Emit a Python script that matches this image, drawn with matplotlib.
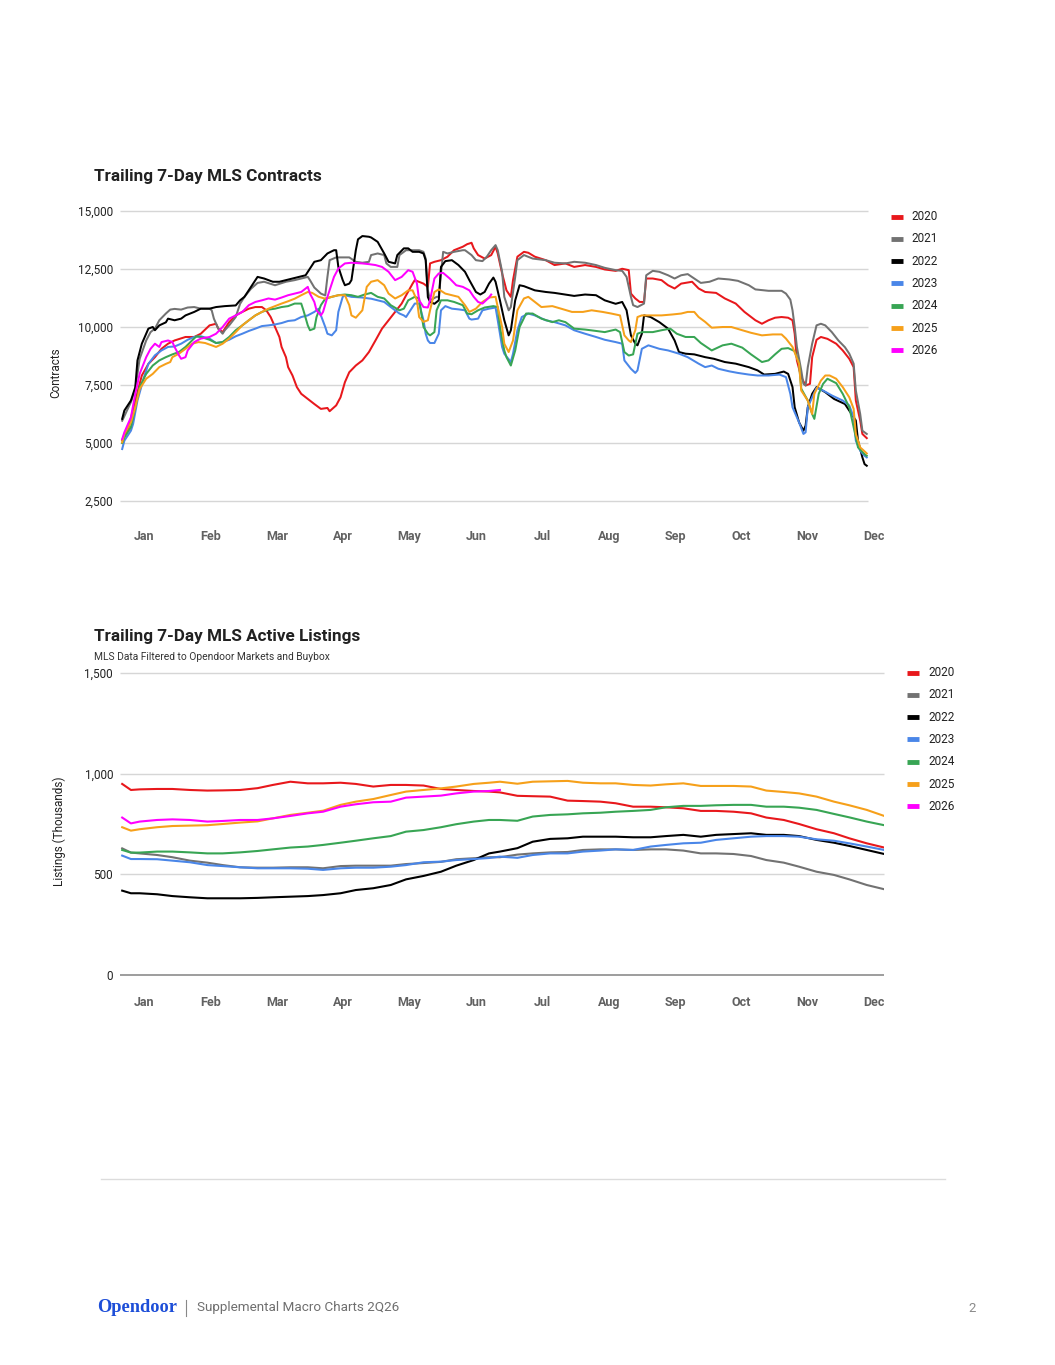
import numpy as np
import matplotlib
matplotlib.use("Agg")
import matplotlib.pyplot as plt
from matplotlib.lines import Line2D

plt.rcParams['font.family'] = ['Roboto', 'DejaVu Sans']

years = ['2020', '2021', '2022', '2023', '2024', '2025', '2026']
colors = ['#e8181c', '#727272', '#000000', '#4a86e8', '#38a554', '#f6a01a', '#ff00ff']
months = ['Jan', 'Feb', 'Mar', 'Apr', 'May', 'Jun', 'Jul', 'Aug', 'Sep', 'Oct', 'Nov', 'Dec']
month_days = np.arange(12) * 30.4

# trailing 7-day contracts, (day of year, contracts)
contracts_2020 = [(-10, 5130), (-7, 5680), (-4, 6830), (-1, 7910), (2, 8410), (5, 8700), (8, 9060), (11, 9280),
                  (14, 9420), (19, 9570), (23, 9570), (26, 9710), (30, 10070), (33, 10140), (34, 9930), (36, 9780),
                  (39, 10210), (42, 10500), (45, 10650), (48, 10790), (51, 10860), (54, 10860), (56, 10720),
                  (58, 10430), (60, 10000), (62, 9570), (63, 9140), (65, 8700), (66, 8270), (68, 7910), (70, 7410),
                  (72, 7120), (75, 6900), (78, 6680), (81, 6470), (84, 6510), (85, 6370), (88, 6620), (90, 6970),
                  (92, 7620), (94, 8050), (97, 8340), (100, 8560), (103, 8920), (106, 9420), (109, 9930),
                  (112, 10290), (115, 10650), (118, 11010), (120, 11360), (123, 11870), (124, 12020), (128, 11870),
                  (130, 11730), (131, 12740), (133, 12810), (136, 12880), (139, 13030), (142, 13310), (146, 13460),
                  (148, 13570), (150, 13630), (151, 13390), (153, 13100), (156, 12950), (159, 13100), (161, 13460),
                  (162, 13170), (164, 12310), (166, 11580), (168, 11300), (169, 12020), (171, 13030), (174, 13240),
                  (176, 13200), (179, 13030), (184, 12880), (188, 12670), (193, 12740), (197, 12590), (202, 12670),
                  (207, 12590), (211, 12480), (216, 12420), (219, 12510), (222, 12450), (223, 11440), (225, 11230),
                  (227, 11080), (229, 11080), (230, 12090), (233, 12090), (237, 12020), (240, 11800), (243, 11660),
                  (246, 11870), (251, 11950), (254, 11660), (257, 11510), (262, 11470), (266, 11230), (271, 11010),
                  (275, 10650), (280, 10290), (283, 10140), (286, 10290), (289, 10400), (292, 10430), (295, 10400),
                  (297, 10290), (298, 9710), (299, 8560), (301, 7840), (303, 7480), (305, 7550), (306, 8700),
                  (308, 9450), (310, 9570), (313, 9490), (317, 9280), (320, 8990), (323, 8630), (325, 8270),
                  (326, 6830), (328, 5970), (329, 5390), (331, 5210)]
contracts_2021 = [(-10, 5960), (-6, 6760), (-4, 7330), (-2, 8630), (1, 9420), (3, 9780), (5, 9930), (7, 10290),
                  (10, 10580), (12, 10750), (14, 10780), (17, 10750), (20, 10840), (23, 10860), (26, 10790),
                  (30, 10790), (31, 10720), (32, 10360), (34, 9930), (36, 9710), (37, 9860), (39, 10070), (42, 10430),
                  (44, 11000), (46, 11300), (49, 11650), (52, 11900), (55, 11950), (60, 11800), (65, 11950),
                  (69, 12020), (72, 12090), (75, 12160), (76, 12020), (78, 11700), (81, 11440), (83, 11360),
                  (84, 12160), (85, 12880), (88, 13000), (94, 13000), (97, 12810), (100, 12770), (103, 12810),
                  (104, 13100), (107, 13170), (110, 13100), (111, 12740), (113, 12590), (116, 12590), (117, 13100),
                  (120, 13310), (126, 13310), (128, 13240), (129, 12950), (130, 11580), (131, 11150), (134, 11300),
                  (135, 11300), (137, 13240), (139, 13170), (142, 13240), (146, 13310), (147, 13310), (150, 13100),
                  (152, 12880), (155, 12840), (157, 13030), (159, 13310), (161, 13530), (162, 13310), (164, 12380),
                  (165, 11300), (167, 10720), (168, 10860), (170, 12160), (171, 12880), (174, 13100), (178, 12950),
                  (184, 12880), (188, 12770), (193, 12740), (197, 12810), (202, 12770), (207, 12670), (211, 12550),
                  (216, 12450), (219, 12420), (221, 12160), (223, 11300), (224, 10940), (226, 10860), (229, 11010),
                  (230, 12230), (233, 12420), (236, 12380), (240, 12230), (243, 12090), (246, 12230), (249, 12280),
                  (252, 12090), (255, 11900), (259, 11950), (263, 12090), (268, 12050), (272, 11990), (277, 11800),
                  (280, 11620), (286, 11560), (292, 11560), (294, 11440), (296, 11180), (297, 10720), (298, 10000),
                  (299, 9140), (301, 8130), (302, 7550), (303, 7480), (304, 8270), (306, 9280), (308, 10070),
                  (310, 10140), (312, 10070), (315, 9780), (318, 9420), (321, 9130), (323, 8850), (325, 8420),
                  (326, 7260), (328, 6250), (329, 5530), (331, 5390)]
contracts_2022 = [(-10, 6040), (-9, 6400), (-6, 6830), (-4, 7400), (-3, 8560), (-1, 9280), (1, 9710), (2, 9930),
                  (4, 10000), (5, 9860), (7, 10070), (10, 10200), (11, 10360), (14, 10290), (17, 10360), (19, 10500),
                  (23, 10650), (26, 10790), (30, 10790), (33, 10860), (37, 10900), (42, 10930), (44, 11150),
                  (46, 11300), (49, 11730), (52, 12160), (55, 12090), (59, 11950), (62, 11950), (65, 12020),
                  (68, 12090), (71, 12160), (74, 12230), (77, 12670), (78, 12810), (81, 12880), (84, 13170),
                  (87, 13310), (88, 13310), (89, 12590), (91, 12020), (92, 11800), (94, 11870), (95, 12020),
                  (97, 13310), (98, 13780), (100, 13920), (103, 13890), (104, 13860), (107, 13670), (110, 13170),
                  (112, 12810), (115, 12740), (116, 13100), (119, 13390), (121, 13390), (123, 13240), (126, 13240),
                  (128, 13170), (129, 12880), (130, 11290), (131, 11080), (133, 11000), (135, 11150), (136, 12590),
                  (138, 12840), (141, 12880), (144, 12670), (147, 12380), (149, 12020), (152, 11510), (154, 11400),
                  (156, 11510), (158, 11870), (160, 12130), (161, 11950), (163, 11150), (165, 10290), (167, 9640),
                  (168, 9860), (170, 11150), (172, 11800), (174, 11760), (179, 11580), (184, 11510), (188, 11470),
                  (193, 11400), (197, 11340), (202, 11400), (207, 11370), (211, 11150), (216, 11000), (219, 11080),
                  (221, 10720), (223, 9640), (225, 9280), (226, 9210), (228, 9710), (229, 10500), (232, 10430),
                  (236, 10210), (240, 9930), (243, 9420), (245, 8920), (248, 8850), (252, 8820), (257, 8700),
                  (261, 8630), (266, 8490), (271, 8420), (277, 8270), (281, 8130), (284, 7950), (289, 7980),
                  (293, 8080), (295, 7980), (297, 7410), (298, 6540), (300, 5890), (302, 5530), (303, 5750),
                  (304, 6540), (306, 7120), (308, 7410), (312, 7190), (316, 6900), (321, 6680), (324, 6250),
                  (326, 5970), (327, 5100), (329, 4380), (330, 4090), (331, 4020)]
contracts_2023 = [(-10, 4740), (-9, 5100), (-6, 5530), (-5, 5820), (-3, 6830), (0, 7840), (2, 8410), (5, 8780),
                  (8, 8990), (11, 9140), (14, 9160), (17, 9280), (20, 9450), (23, 9570), (26, 9600), (30, 9500),
                  (33, 9310), (36, 9350), (39, 9450), (42, 9600), (45, 9710), (48, 9830), (51, 9930), (54, 10040),
                  (57, 10070), (60, 10110), (63, 10170), (66, 10260), (69, 10290), (72, 10430), (75, 10500),
                  (78, 10650), (80, 10790), (81, 10500), (83, 10000), (84, 9710), (86, 9640), (88, 9860), (89, 10650),
                  (91, 11300), (92, 11370), (95, 11300), (100, 11270), (103, 11230), (104, 11220), (107, 11150),
                  (110, 11080), (113, 10860), (117, 10580), (119, 10500), (120, 10430), (122, 10720), (124, 11010),
                  (126, 11010), (128, 10290), (129, 9710), (130, 9420), (131, 9310), (133, 9310), (135, 9710),
                  (136, 10720), (138, 10900), (141, 10790), (144, 10760), (147, 10720), (149, 10360), (150, 10320),
                  (153, 10360), (155, 10720), (158, 10790), (161, 10840), (162, 10290), (164, 9140), (165, 8850),
                  (168, 8490), (169, 8850), (171, 9860), (173, 10430), (176, 10580), (179, 10500), (184, 10290),
                  (188, 10210), (193, 10070), (197, 9860), (202, 9710), (207, 9570), (211, 9450), (216, 9350),
                  (219, 9280), (220, 8560), (223, 8200), (225, 8020), (226, 8130), (228, 9060), (231, 9210),
                  (236, 9060), (240, 8990), (245, 8850), (249, 8700), (254, 8420), (257, 8270), (260, 8340),
                  (263, 8200), (268, 8090), (272, 8020), (277, 7950), (281, 7910), (286, 7910), (291, 7950),
                  (294, 7840), (296, 7120), (297, 6540), (300, 5890), (302, 5390), (303, 5460), (304, 6540),
                  (306, 6970), (308, 7380), (311, 7260), (315, 7050), (320, 6830), (323, 6620), (325, 6110),
                  (326, 5100), (328, 4670), (330, 4450), (331, 4380)]
contracts_2024 = [(-10, 5000), (-9, 5240), (-6, 5680), (-4, 6540), (-2, 7410), (1, 7980), (4, 8340), (7, 8560),
                  (10, 8700), (13, 8820), (16, 8920), (19, 9140), (22, 9420), (24, 9600), (26, 9570), (30, 9450),
                  (33, 9310), (36, 9350), (39, 9570), (42, 9860), (45, 10070), (48, 10290), (51, 10500), (54, 10650),
                  (57, 10750), (60, 10790), (63, 10860), (66, 10900), (69, 11010), (72, 11010), (73, 10720),
                  (75, 10070), (76, 9860), (78, 9930), (79, 10430), (81, 10940), (83, 11220), (86, 11300),
                  (89, 11370), (92, 11400), (95, 11370), (98, 11300), (101, 11400), (104, 11470), (107, 11300),
                  (110, 11230), (113, 10940), (117, 10720), (119, 10790), (121, 11150), (124, 11300), (126, 11230),
                  (127, 10580), (128, 10000), (130, 9710), (131, 9640), (133, 9780), (134, 10720), (136, 11150),
                  (139, 11150), (142, 11080), (146, 10940), (148, 10580), (150, 10550), (153, 10720), (156, 10840),
                  (160, 10900), (162, 10860), (163, 10000), (165, 8990), (166, 8700), (168, 8340), (170, 8990),
                  (172, 10000), (175, 10580), (178, 10580), (182, 10360), (187, 10210), (190, 10290), (193, 10210),
                  (197, 9930), (202, 9890), (207, 9830), (211, 9780), (216, 9890), (218, 9780), (220, 8920),
                  (222, 8770), (224, 8820), (226, 9710), (228, 9780), (233, 9780), (237, 9860), (241, 9930),
                  (244, 9710), (248, 9570), (252, 9570), (255, 9310), (260, 8990), (265, 9210), (269, 9280),
                  (274, 9110), (278, 8820), (283, 8490), (286, 8560), (289, 8820), (292, 9060), (295, 9090),
                  (298, 8960), (300, 8420), (301, 7340), (304, 6830), (306, 6250), (307, 6040), (309, 7120),
                  (311, 7550), (313, 7770), (317, 7580), (320, 7120), (323, 6540), (325, 5680), (327, 4810),
                  (330, 4520), (331, 4450)]
contracts_2025 = [(-10, 5030), (-9, 5390), (-6, 5890), (-4, 6540), (-2, 7330), (1, 7770), (4, 7980), (7, 8270),
                  (10, 8410), (12, 8490), (13, 8700), (16, 8850), (19, 9060), (22, 9280), (25, 9350), (28, 9310),
                  (31, 9210), (33, 9140), (36, 9280), (39, 9500), (42, 9780), (45, 10070), (48, 10290), (51, 10500),
                  (54, 10650), (57, 10790), (60, 10900), (63, 11010), (66, 11110), (69, 11220), (72, 11370),
                  (75, 11510), (77, 11470), (80, 11300), (83, 11220), (86, 11300), (89, 11370), (92, 11370),
                  (94, 10940), (95, 10500), (97, 10400), (100, 10720), (102, 11730), (104, 11950), (107, 12020),
                  (110, 11800), (112, 11440), (115, 11230), (118, 11370), (121, 11580), (123, 11580), (125, 11150),
                  (126, 10430), (128, 10220), (130, 10290), (131, 10720), (133, 11510), (135, 11620), (138, 11440),
                  (141, 11370), (144, 11300), (147, 10940), (149, 10650), (152, 10790), (155, 11080), (158, 11270),
                  (161, 11300), (162, 10860), (164, 10000), (165, 9280), (167, 8920), (169, 9420), (171, 10720),
                  (174, 11230), (176, 11300), (179, 11080), (182, 10860), (187, 10900), (191, 10790), (196, 10650),
                  (201, 10650), (205, 10720), (210, 10650), (214, 10580), (218, 10500), (220, 9640), (222, 9420),
                  (223, 9350), (225, 9860), (226, 10430), (228, 10500), (237, 10500), (242, 10540), (246, 10580),
                  (249, 10650), (252, 10650), (254, 10430), (257, 10220), (260, 9970), (265, 10000), (269, 10000),
                  (274, 9860), (278, 9750), (283, 9640), (288, 9680), (292, 9680), (294, 9500), (297, 9140),
                  (300, 8420), (301, 7260), (304, 6830), (306, 6250), (307, 7120), (310, 7690), (312, 7910),
                  (314, 7910), (317, 7770), (320, 7410), (323, 6970), (325, 6470), (326, 5390), (328, 4810),
                  (330, 4640), (331, 4550)]
contracts_2026 = [(-10, 5170), (-9, 5460), (-6, 6110), (-4, 7120), (-2, 7980), (1, 8700), (3, 9060), (5, 9280),
                  (7, 9140), (8, 9350), (11, 9420), (13, 9350), (14, 9140), (16, 8780), (17, 8630), (19, 8700),
                  (20, 8990), (23, 9350), (26, 9500), (30, 9570), (33, 9710), (36, 10000), (39, 10360), (42, 10500),
                  (45, 10650), (48, 10940), (51, 11080), (54, 11150), (57, 11230), (60, 11180), (63, 11270),
                  (66, 11370), (69, 11440), (72, 11510), (75, 11730), (76, 11440), (78, 11080), (79, 10720),
                  (81, 10500), (82, 10650), (84, 11300), (87, 12160), (89, 12520), (92, 12740), (95, 12770),
                  (100, 12740), (103, 12710), (106, 12670), (109, 12590), (112, 12380), (115, 12020), (118, 12160),
                  (121, 12450), (123, 12380), (125, 11870), (126, 11150), (128, 10860), (130, 10840), (131, 11150),
                  (133, 12090), (135, 12310), (137, 12330), (140, 12090), (143, 11800), (146, 11730), (149, 11580),
                  (151, 11300), (153, 11080), (155, 11010), (158, 11270), (159, 11400)]

# trailing 7-day active listings (thousands)
listing_days = [-10, -6, -2, 6, 13, 21, 29, 36, 44, 52, 59, 67, 75, 82, 90, 97, 105, 113, 120, 128, 136, 143,
                151, 158, 163, 171, 178, 186, 194, 201, 209, 216, 224, 232, 239, 247, 255, 262, 270, 278, 285,
                293, 300, 308, 316, 323, 331, 339]
listings_2020 = [949, 919, 922, 924, 924, 919, 916, 917, 919, 928, 944, 960, 952, 952, 955, 949, 936, 944, 944, 941,
                 924, 919, 914, 911, 907, 890, 888, 886, 866, 864, 861, 853, 836, 836, 833, 828, 815, 815, 811, 803,
                 782, 770, 750, 724, 704, 679, 654, 633]
listings_2021 = [629, 608, 604, 596, 585, 568, 558, 546, 535, 533, 533, 535, 535, 530, 541, 543, 543, 543, 551, 556,
                 562, 575, 580, 585, 585, 598, 604, 609, 611, 621, 624, 624, 621, 624, 624, 618, 604, 604, 601, 591,
                 571, 558, 538, 513, 497, 475, 447, 426]
listings_2022 = [419, 406, 406, 401, 392, 386, 381, 381, 381, 383, 386, 389, 392, 397, 406, 422, 431, 447, 475, 492,
                 513, 543, 571, 604, 613, 630, 662, 676, 679, 687, 687, 687, 684, 684, 690, 696, 687, 696, 700, 704,
                 696, 696, 690, 671, 657, 641, 621, 601]
listings_2023 = [593, 576, 576, 575, 568, 560, 546, 541, 535, 530, 530, 530, 528, 522, 530, 533, 533, 538, 546, 560,
                 563, 571, 576, 581, 588, 582, 596, 604, 604, 613, 618, 624, 621, 638, 646, 654, 657, 671, 679, 687,
                 690, 690, 687, 674, 667, 654, 638, 621]
listings_2024 = [621, 608, 608, 613, 613, 609, 604, 604, 609, 616, 624, 633, 638, 646, 657, 667, 679, 690, 712, 720,
                 734, 749, 762, 770, 770, 766, 787, 795, 798, 803, 806, 811, 815, 820, 833, 840, 840, 843, 845, 845,
                 836, 836, 831, 820, 800, 783, 762, 744]
listings_2025 = [734, 717, 724, 734, 740, 742, 744, 750, 757, 763, 778, 795, 806, 816, 845, 861, 874, 894, 911, 919,
                 927, 936, 949, 955, 960, 950, 960, 962, 964, 955, 952, 952, 944, 941, 947, 952, 939, 939, 939, 936,
                 916, 909, 902, 886, 861, 843, 820, 790]
listings_2026 = [782, 753, 762, 770, 773, 770, 762, 765, 770, 770, 778, 790, 803, 811, 836, 848, 858, 861, 881, 886,
                 891, 902, 911, 914, 919]

contract_series = [contracts_2020, contracts_2021, contracts_2022, contracts_2023,
                   contracts_2024, contracts_2025, contracts_2026]
listing_series = [listings_2020, listings_2021, listings_2022, listings_2023,
                  listings_2024, listings_2025, listings_2026]

W, H = 1055, 1365
fig = plt.figure(figsize=(W / 100, H / 100), dpi=100)


def fx(px):
    return px / W


def fy(py):
    return 1 - py / H


def style_axes(ax, yticks, ylabels, xpad):
    for s in ax.spines.values():
        s.set_visible(False)
    ax.set_xlim(-11, 338.9)
    ax.set_xticks(month_days, months, fontweight='bold')
    ax.set_yticks(yticks, ylabels)
    ax.tick_params(axis='x', length=0, pad=xpad, labelsize=9, labelcolor='#616161')
    ax.tick_params(axis='y', length=0, pad=5, labelsize=8.5, labelcolor='#222222')


# ---- top chart: contracts
ax1 = fig.add_axes([fx(120), fy(501), fx(884) - fx(120), fy(211) - fy(501)])
c_ticks = [2500, 5000, 7500, 10000, 12500, 15000]
ax1.set_ylim(2500, 15000)
style_axes(ax1, c_ticks, [f"{v:,}" for v in c_ticks], 21)
ax1.hlines(c_ticks, -11, 331.6, color='#d6d6d6', lw=1.0, zorder=0, clip_on=False)
for data, c in zip(contract_series, colors):
    d, v = zip(*data)
    ax1.plot(d, v, color=c, lw=1.45, solid_joinstyle='round')

fig.text(fx(94), fy(176), 'Trailing 7-Day MLS Contracts', fontsize=12.3, fontweight='bold',
         color='#212121', va='center')
fig.text(fx(56), fy(373), 'Contracts', rotation=90, fontsize=8.5, color='#222222', va='center', ha='center')

# ---- bottom chart: active listings
ax2 = fig.add_axes([fx(120), fy(975), fx(884) - fx(120), fy(673) - fy(975)])
l_ticks = [0, 500, 1000, 1500]
ax2.set_ylim(0, 1500)
style_axes(ax2, l_ticks, [f"{v:,}" for v in l_ticks], 15)
ax2.hlines(l_ticks[1:], -11, 338.9, color='#d6d6d6', lw=1.0, zorder=0, clip_on=False)
ax2.hlines([0], -11, 338.9, color='#8c8c8c', lw=1.2, zorder=0, clip_on=False)
for vals, c in zip(listing_series, colors):
    ax2.plot(listing_days[:len(vals)], vals, color=c, lw=1.5, solid_joinstyle='round')

fig.text(fx(94), fy(636), 'Trailing 7-Day MLS Active Listings', fontsize=12.3, fontweight='bold',
         color='#212121', va='center')
fig.text(fx(94), fy(657), 'MLS Data Filtered to Opendoor Markets and Buybox', fontsize=7.4,
         color='#333333', va='center')
fig.text(fx(59), fy(831), 'Listings (Thousands)', rotation=90, fontsize=8.5, color='#222222',
         va='center', ha='center')

# ---- legends
for i, (yr, c) in enumerate(zip(years, colors)):
    y = 216.5 + i * 22.33
    fig.add_artist(Line2D([fx(891), fx(903)], [fy(y), fy(y)], color=c, lw=3.5, solid_capstyle='butt'))
    fig.text(fx(911), fy(y), yr, fontsize=8.5, color='#222222', va='center')
    y = 672.5 + i * 22.33
    fig.add_artist(Line2D([fx(907), fx(919)], [fy(y), fy(y)], color=c, lw=3.5, solid_capstyle='butt'))
    fig.text(fx(928), fy(y), yr, fontsize=8.5, color='#222222', va='center')

# ---- footer
fig.add_artist(Line2D([fx(101), fx(945)], [fy(1179), fy(1179)], color='#dcdcdc', lw=1.0))
fig.text(fx(97), fy(1308), 'Opendoor', family=['Liberation Serif', 'DejaVu Serif'], fontweight='bold',
         fontsize=13.2, color='#1d4ed8', va='center')
fig.add_artist(Line2D([fx(186), fx(186)], [fy(1300), fy(1316)], color='#888888', lw=0.8))
fig.text(fx(197), fy(1308), 'Supplemental Macro Charts 2Q26', fontsize=9.7, color='#6f6f6f', va='center')
fig.text(fx(976), fy(1308), '2', fontsize=9.5, color='#8a8a8a', va='center', ha='right')

fig.savefig('out.png', dpi=100)
